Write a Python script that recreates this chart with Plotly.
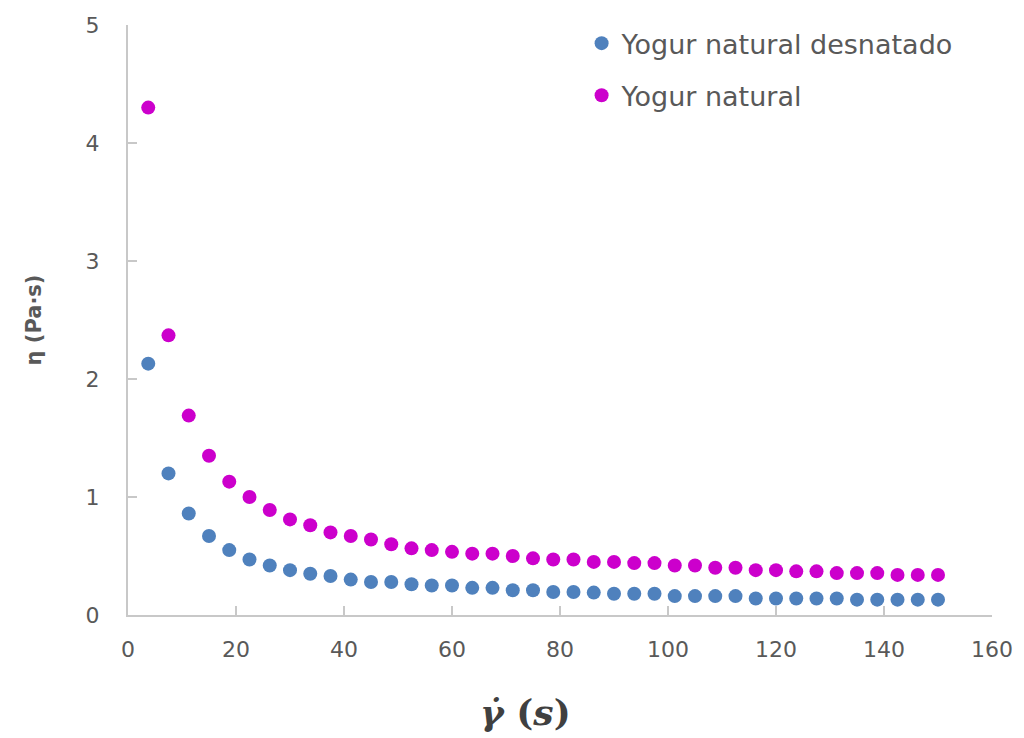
import plotly.graph_objects as go

shear_rate = [3.75 * (i + 1) for i in range(40)]

yogur_desnatado = [2.13, 1.20, 0.86, 0.67, 0.55, 0.47, 0.42, 0.38, 0.35, 0.33,
                   0.30, 0.28, 0.28, 0.26, 0.25, 0.25, 0.23, 0.23, 0.21, 0.21,
                   0.195, 0.195, 0.19, 0.18, 0.18, 0.18, 0.16, 0.16, 0.16, 0.16,
                   0.14, 0.14, 0.14, 0.14, 0.14, 0.13, 0.13, 0.13, 0.13, 0.13]

yogur_natural = [4.30, 2.37, 1.69, 1.35, 1.13, 1.00, 0.89, 0.81, 0.76, 0.70,
                 0.67, 0.64, 0.60, 0.565, 0.55, 0.535, 0.52, 0.52, 0.50, 0.48,
                 0.47, 0.47, 0.45, 0.45, 0.44, 0.44, 0.42, 0.42, 0.40, 0.40,
                 0.38, 0.38, 0.37, 0.37, 0.355, 0.355, 0.355, 0.34, 0.34, 0.34]

x_ticks = [0, 20, 40, 60, 80, 100, 120, 140, 160]
y_ticks = [0, 1, 2, 3, 4, 5]

FONT = "DejaVu Sans"
GREY = "#595959"
AXIS = "#c8c8c8"

fig = go.Figure()
fig.add_trace(go.Scatter(x=shear_rate, y=yogur_desnatado, mode="markers",
                         name="Yogur natural desnatado", legendgroup="a",
                         marker=dict(color="#4F81BD", size=14)))
fig.add_trace(go.Scatter(x=shear_rate, y=yogur_natural, mode="markers",
                         name="Yogur natural", legendgroup="b",
                         marker=dict(color="#CC00CC", size=14)))

fig.update_layout(
    width=1024, height=738,
    paper_bgcolor="white", plot_bgcolor="white",
    margin=dict(l=128, r=32, t=25, b=123),
    font=dict(family=FONT, color=GREY, size=22),
    legend=dict(x=0.525, y=1.01, xanchor="left", yanchor="top",
                font=dict(family=FONT, size=27, color=GREY),
                tracegroupgap=14, itemwidth=30, bgcolor="rgba(0,0,0,0)"),
    xaxis=dict(range=[0, 160], tickvals=x_ticks, showgrid=False, zeroline=False,
               showline=True, linecolor=AXIS, linewidth=2,
               ticks="inside", ticklen=9, tickwidth=1.5, tickcolor=AXIS,
               ticklabelstandoff=14,
               tickfont=dict(family=FONT, size=22, color=GREY)),
    yaxis=dict(range=[0, 5], tickvals=y_ticks, showgrid=False, zeroline=False,
               showline=True, linecolor=AXIS, linewidth=2,
               ticks="inside", ticklen=9, tickwidth=1.5, tickcolor=AXIS,
               ticklabelstandoff=22,
               tickfont=dict(family=FONT, size=22, color=GREY),
               title=dict(text="<b>η (Pa·s)</b>", standoff=38,
                          font=dict(family=FONT, size=21, color=GREY))),
)

fig.add_annotation(text="<b><i>γ̇</i> (<i>s</i>)</b>", xref="paper", yref="paper",
                   x=0.4595, y=-0.165, xanchor="center", yanchor="middle",
                   showarrow=False,
                   font=dict(family="DejaVu Serif", size=36, color="#404040"))

fig.write_html("out.html", config={"displayModeBar": False},
               post_script="document.body.style.margin='0';")
